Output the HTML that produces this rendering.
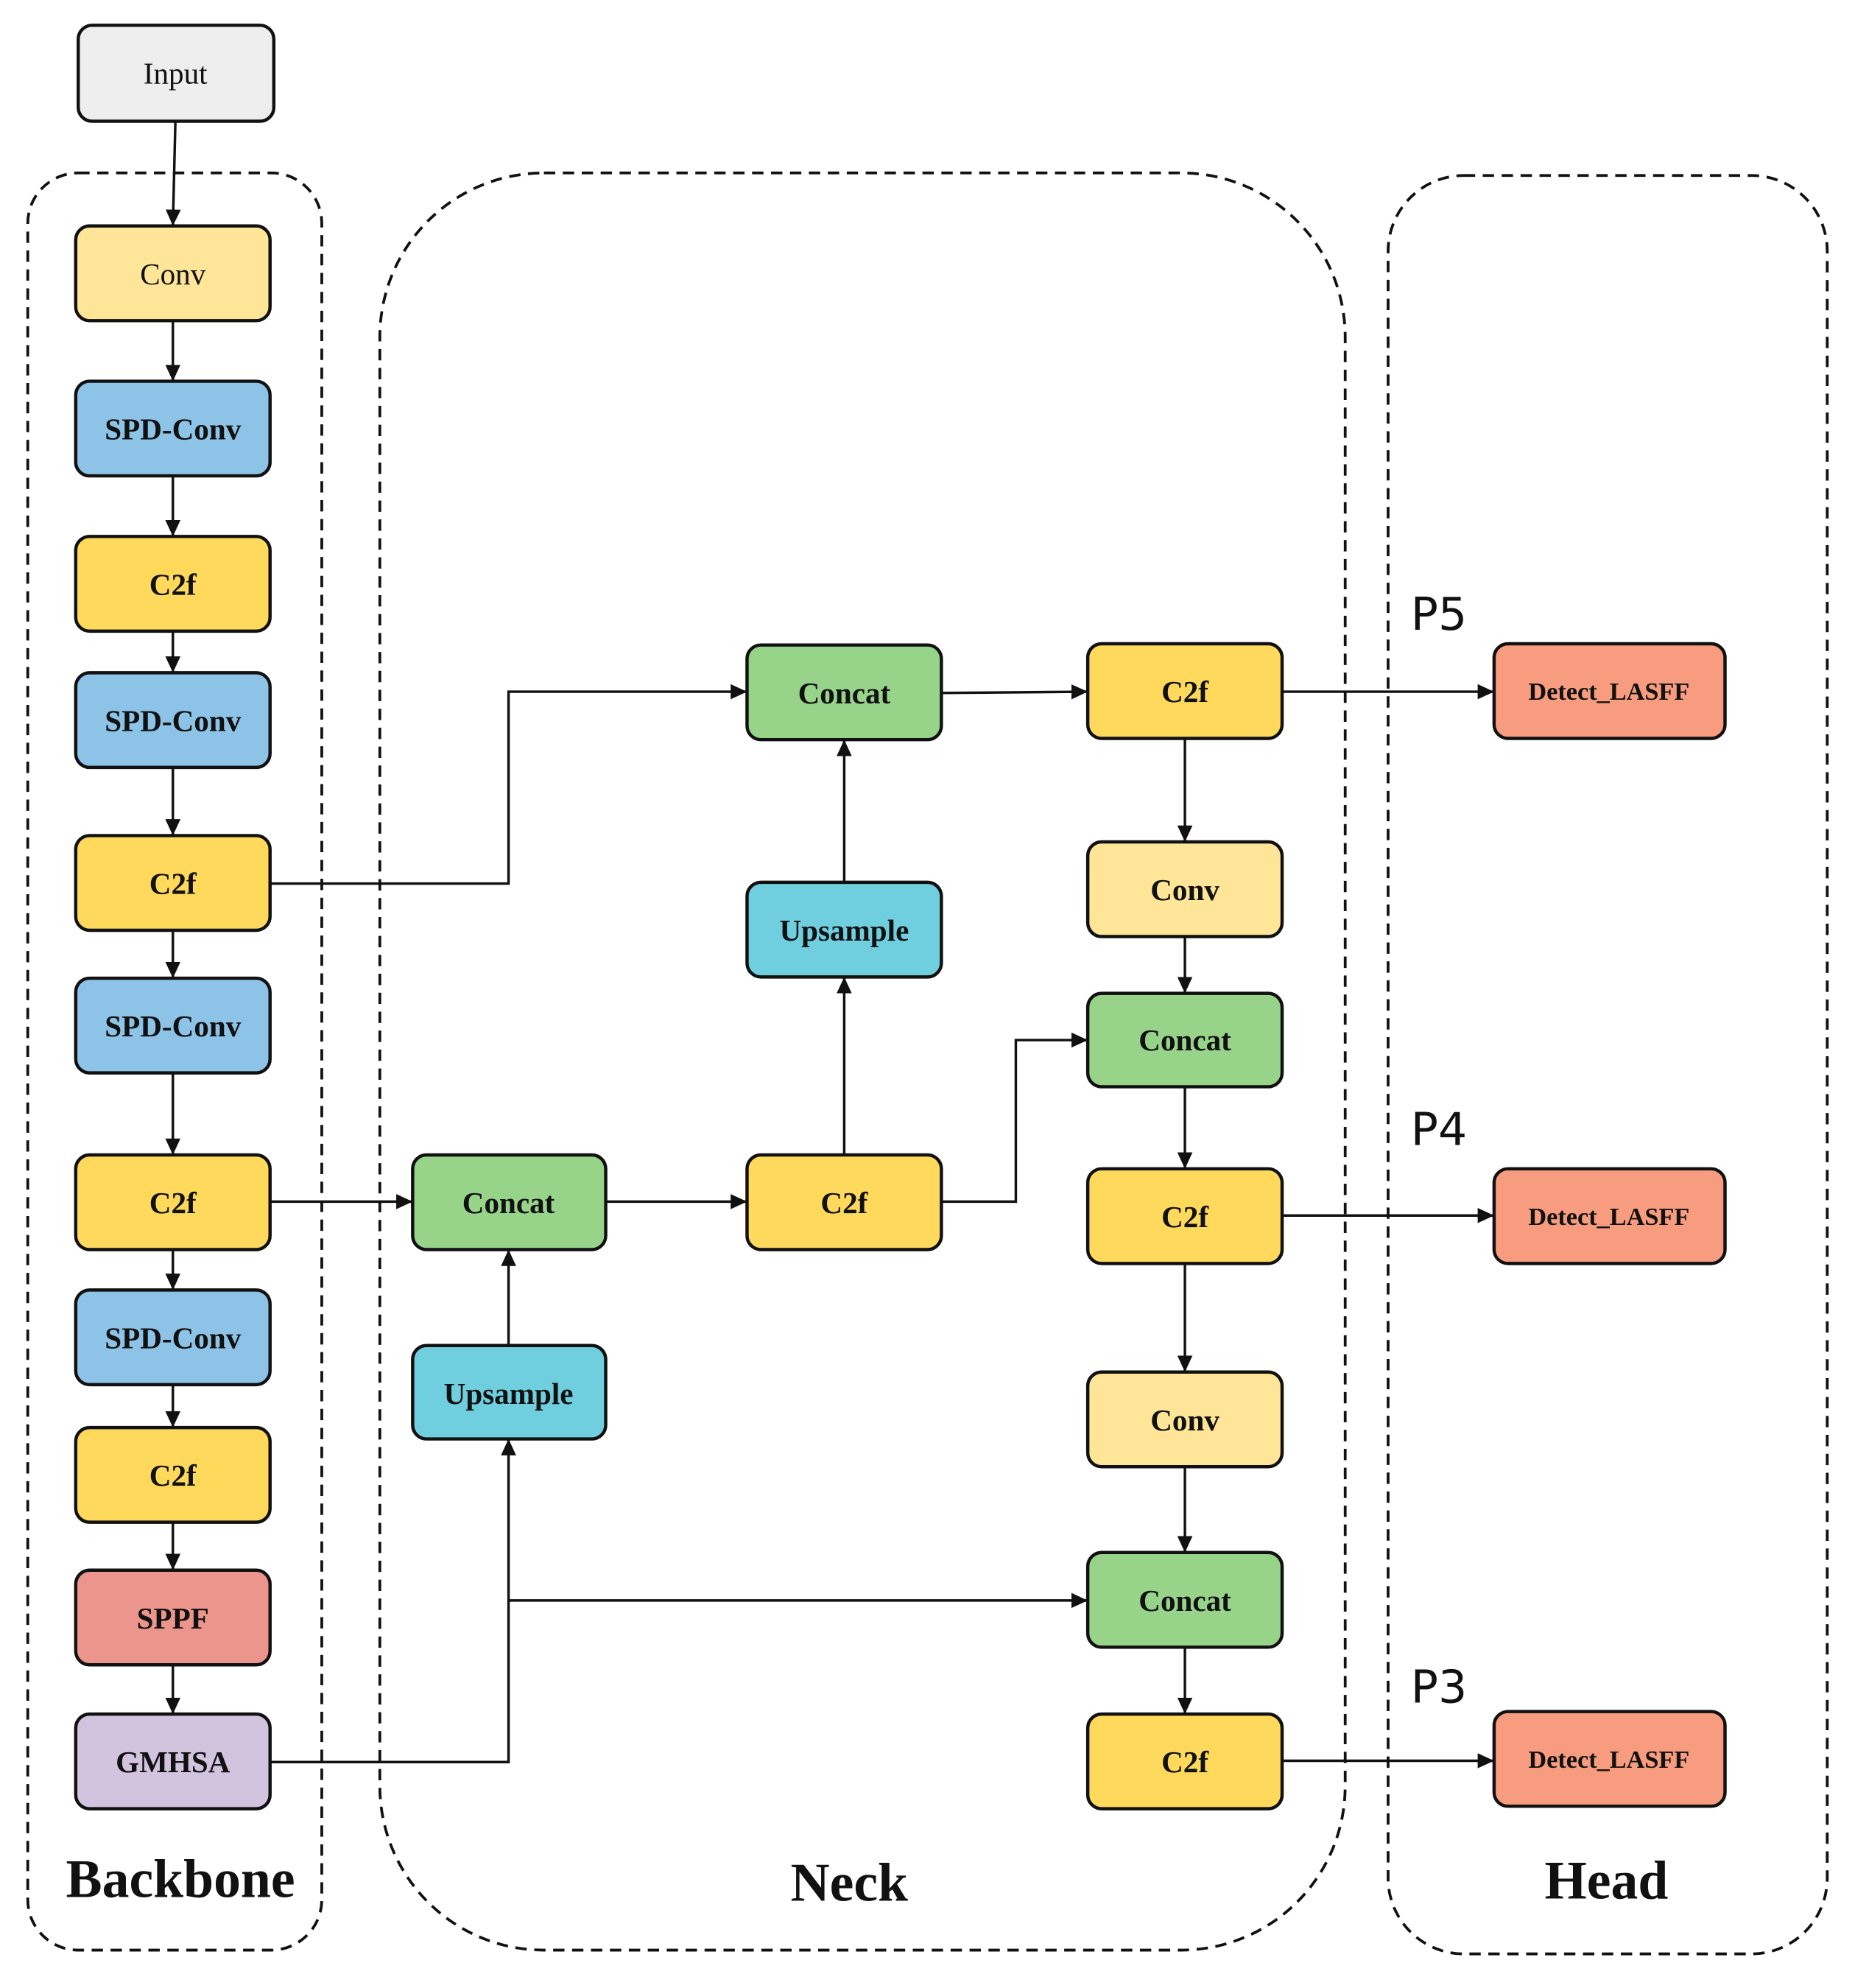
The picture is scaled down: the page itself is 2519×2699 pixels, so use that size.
<!DOCTYPE html>
<html><head><meta charset="utf-8"><style>
html,body{margin:0;padding:0;background:#fff}
svg{display:block}
.b{stroke:#111;stroke-width:2.6}
.t{font-family:"Liberation Serif",serif;font-size:24px;font-weight:bold;text-anchor:middle;dominant-baseline:central;fill:#111}
.n{font-weight:normal}
.d{font-size:20px}
.l{stroke:#111;stroke-width:2;fill:none}
.dash{stroke:#111;stroke-width:2.2;fill:none;stroke-dasharray:9 6}
.p{font-family:"DejaVu Sans","Liberation Sans",sans-serif;font-size:36px;fill:#111}
.big{font-family:"Liberation Serif",serif;font-size:43px;font-weight:bold;text-anchor:middle;fill:#111}
</style></head><body>
<svg width="2519" height="2699" viewBox="0 0 1470 1575" xmlns="http://www.w3.org/2000/svg">
<defs><marker id="a" markerWidth="13" markerHeight="12" refX="12" refY="6" orient="auto" markerUnits="userSpaceOnUse"><path d="M0,0 L13,6 L0,12 Z" fill="#111"/></marker></defs>
<rect class="dash" x="22" y="137" width="233" height="1408" rx="40"/>
<rect class="dash" x="301" y="137" width="765" height="1408" rx="130"/>
<rect class="dash" x="1100" y="139" width="348" height="1409" rx="60"/>
<text class="big" x="143" y="1503">Backbone</text>
<text class="big" x="673" y="1506">Neck</text>
<text class="big" x="1273" y="1504">Head</text>
<text class="p" x="1118" y="499">P5</text>
<text class="p" x="1118" y="907">P4</text>
<text class="p" x="1118" y="1349">P3</text>
<g class="l">
<line x1="139" y1="96" x2="137" y2="178" marker-end="url(#a)"/>
<line x1="137" y1="254" x2="137" y2="301" marker-end="url(#a)"/>
<line x1="137" y1="377" x2="137" y2="424" marker-end="url(#a)"/>
<line x1="137" y1="500" x2="137" y2="532" marker-end="url(#a)"/>
<line x1="137" y1="608" x2="137" y2="661" marker-end="url(#a)"/>
<line x1="137" y1="737" x2="137" y2="774" marker-end="url(#a)"/>
<line x1="137" y1="850" x2="137" y2="914" marker-end="url(#a)"/>
<line x1="137" y1="990" x2="137" y2="1021" marker-end="url(#a)"/>
<line x1="137" y1="1097" x2="137" y2="1130" marker-end="url(#a)"/>
<line x1="137" y1="1206" x2="137" y2="1243" marker-end="url(#a)"/>
<line x1="137" y1="1319" x2="137" y2="1357" marker-end="url(#a)"/>
<polyline points="214,700 403,700 403,548 591,548" marker-end="url(#a)"/>
<line x1="214" y1="952" x2="326" y2="952" marker-end="url(#a)"/>
<polyline points="214,1396 403,1396 403,1141" marker-end="url(#a)"/>
<polyline points="403,1268 861,1268" marker-end="url(#a)"/>
<line x1="403" y1="1066" x2="403" y2="991" marker-end="url(#a)"/>
<line x1="480" y1="952" x2="591" y2="952" marker-end="url(#a)"/>
<line x1="669" y1="915" x2="669" y2="775" marker-end="url(#a)"/>
<line x1="669" y1="699" x2="669" y2="587" marker-end="url(#a)"/>
<polyline points="746,952 805,952 805,824 861,824" marker-end="url(#a)"/>
<line x1="746" y1="549" x2="861" y2="548" marker-end="url(#a)"/>
<line x1="939" y1="585" x2="939" y2="666" marker-end="url(#a)"/>
<line x1="939" y1="742" x2="939" y2="786" marker-end="url(#a)"/>
<line x1="939" y1="861" x2="939" y2="925" marker-end="url(#a)"/>
<line x1="939" y1="1001" x2="939" y2="1086" marker-end="url(#a)"/>
<line x1="939" y1="1162" x2="939" y2="1229" marker-end="url(#a)"/>
<line x1="939" y1="1305" x2="939" y2="1357" marker-end="url(#a)"/>
<line x1="1016" y1="548" x2="1183" y2="548" marker-end="url(#a)"/>
<line x1="1016" y1="963" x2="1183" y2="963" marker-end="url(#a)"/>
<line x1="1016" y1="1395" x2="1183" y2="1395" marker-end="url(#a)"/>
</g>
<g class="b">
<rect x="62" y="20" width="155" height="76" rx="11" fill="#eeeeee"/>
<rect x="60" y="179" width="154" height="75" rx="11" fill="#fee597"/>
<rect x="60" y="302" width="154" height="75" rx="11" fill="#8dc3e6"/>
<rect x="60" y="425" width="154" height="75" rx="11" fill="#fed95c"/>
<rect x="60" y="533" width="154" height="75" rx="11" fill="#8dc3e6"/>
<rect x="60" y="662" width="154" height="75" rx="11" fill="#fed95c"/>
<rect x="60" y="775" width="154" height="75" rx="11" fill="#8dc3e6"/>
<rect x="60" y="915" width="154" height="75" rx="11" fill="#fed95c"/>
<rect x="60" y="1022" width="154" height="75" rx="11" fill="#8dc3e6"/>
<rect x="60" y="1131" width="154" height="75" rx="11" fill="#fed95c"/>
<rect x="60" y="1244" width="154" height="75" rx="11" fill="#ec958c"/>
<rect x="60" y="1358" width="154" height="75" rx="11" fill="#d2c3de"/>
<rect x="327" y="915" width="153" height="75" rx="11" fill="#98d38a"/>
<rect x="327" y="1066" width="153" height="74" rx="11" fill="#6fcfde"/>
<rect x="592" y="511" width="154" height="75" rx="11" fill="#98d38a"/>
<rect x="592" y="699" width="154" height="75" rx="11" fill="#6fcfde"/>
<rect x="592" y="915" width="154" height="75" rx="11" fill="#fed95c"/>
<rect x="862" y="510" width="154" height="75" rx="11" fill="#fed95c"/>
<rect x="862" y="667" width="154" height="75" rx="11" fill="#fee597"/>
<rect x="862" y="787" width="154" height="74" rx="11" fill="#98d38a"/>
<rect x="862" y="926" width="154" height="75" rx="11" fill="#fed95c"/>
<rect x="862" y="1087" width="154" height="75" rx="11" fill="#fee597"/>
<rect x="862" y="1230" width="154" height="75" rx="11" fill="#98d38a"/>
<rect x="862" y="1358" width="154" height="75" rx="11" fill="#fed95c"/>
<rect x="1184" y="510" width="183" height="75" rx="11" fill="#f79c7e"/>
<rect x="1184" y="926" width="183" height="75" rx="11" fill="#f79c7e"/>
<rect x="1184" y="1356" width="183" height="75" rx="11" fill="#f79c7e"/>
</g>
<text class="t n" x="139" y="58">Input</text>
<text class="t n" x="137" y="217">Conv</text>
<text class="t" x="137" y="340">SPD-Conv</text>
<text class="t" x="137" y="463">C2f</text>
<text class="t" x="137" y="571">SPD-Conv</text>
<text class="t" x="137" y="700">C2f</text>
<text class="t" x="137" y="813">SPD-Conv</text>
<text class="t" x="137" y="953">C2f</text>
<text class="t" x="137" y="1060">SPD-Conv</text>
<text class="t" x="137" y="1169">C2f</text>
<text class="t" x="137" y="1282">SPPF</text>
<text class="t" x="137" y="1396">GMHSA</text>
<text class="t" x="403" y="953">Concat</text>
<text class="t" x="403" y="1104">Upsample</text>
<text class="t" x="669" y="549">Concat</text>
<text class="t" x="669" y="737">Upsample</text>
<text class="t" x="669" y="953">C2f</text>
<text class="t" x="939" y="548">C2f</text>
<text class="t" x="939" y="705">Conv</text>
<text class="t" x="939" y="824">Concat</text>
<text class="t" x="939" y="964">C2f</text>
<text class="t" x="939" y="1125">Conv</text>
<text class="t" x="939" y="1268">Concat</text>
<text class="t" x="939" y="1396">C2f</text>
<text class="t d" x="1275" y="548">Detect_LASFF</text>
<text class="t d" x="1275" y="964">Detect_LASFF</text>
<text class="t d" x="1275" y="1394">Detect_LASFF</text>
</svg>
</body></html>
